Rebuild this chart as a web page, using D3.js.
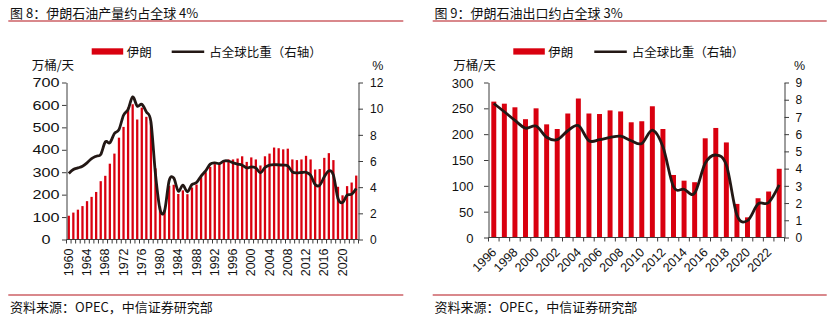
<!DOCTYPE html>
<html>
<head>
<meta charset="utf-8">
<script src="https://cdn.jsdelivr.net/npm/d3@7"></script>
<style>
  body { margin: 0; background: #fff; }
  svg { display: block; }
  text { fill: #111; }
  .cjk { font-family: "Noto Sans CJK SC", sans-serif; }
  .num { font-family: "Liberation Sans", Arial, sans-serif; }
</style>
</head>
<body>
<svg id="chart" width="839" height="325"></svg>
<script>
// Iran crude production (10k b/d) and share of world output (%)
const prodYears = d3.range(1960, 2024);
const prodValues = [
  106, 120, 133, 149, 171, 190, 212, 260, 284, 338,
  383, 454, 502, 588, 603, 535, 588, 547, 524, 317,
  147, 132, 240, 244, 203, 219, 202, 232, 245, 280,
  300, 324, 336, 340, 354, 357, 357, 361, 371, 346,
  366, 357, 330, 371, 383, 410, 407, 402, 405, 357,
  354, 357, 373, 357, 312, 314, 364, 385, 354, 235,
  197, 238, 254, 285,
];
const prodShare = [
  5.05, 5.35, 5.47, 5.6, 5.86, 6.19, 6.37, 6.5, 7.46, 7.39,
  8.1, 8.4, 9.5, 9.94, 10.9, 10.2, 10.34, 9.76, 9.0, 5.0,
  2.3, 2.2, 4.5, 4.7, 3.7, 4.15, 3.65, 4.2, 4.35, 4.85,
  5.25, 5.76, 5.86, 5.8, 6.0, 6.0, 5.86, 5.76, 5.68, 5.47,
  5.55, 5.47, 5.09, 5.5, 5.68, 5.73, 5.7, 5.68, 5.63, 5.17,
  5.09, 5.12, 5.14, 4.92, 4.2, 4.15, 4.79, 5.25, 4.92, 3.13,
  2.83, 3.39, 3.46, 3.9,
];
const prodLeftTicks = [0, 100, 200, 300, 400, 500, 600, 700];
const prodRightTicks = [0, 2, 4, 6, 8, 10, 12];
const prodLabelYears = [1960, 1964, 1968, 1972, 1976, 1980, 1984, 1988, 1992, 1996, 2000, 2004, 2008, 2012, 2016, 2020];

// Iran crude exports (10k b/d) and share of world exports (%)
const exportYears = d3.range(1996, 2024);
const exportValues = [
  263, 259, 252, 229, 250, 219, 210, 240, 269, 240,
  239, 246, 244, 223, 225, 254, 210, 121, 110, 107,
  192, 212, 184, 65, 39, 76, 89, 133,
];
const exportShare = [
  7.78, 7.3, 6.8, 6.35, 6.47, 5.82, 5.68, 6.2, 6.5, 5.62,
  5.68, 5.81, 5.88, 5.62, 5.46, 6.24, 5.27, 2.95, 2.8, 2.57,
  4.31, 4.79, 4.21, 1.31, 0.98, 1.95, 2.03, 3.05,
];
const exportLeftTicks = [0, 50, 100, 150, 200, 250, 300];
const exportRightTicks = [0, 1, 2, 3, 4, 5, 6, 7, 8, 9];
const exportLabelYears = [1996, 1998, 2000, 2002, 2004, 2006, 2008, 2010, 2012, 2014, 2016, 2018, 2020, 2022];

const BAR_RED = '#d9000f';
const LINE_BLACK = '#231815';
const RULE_RED = '#b3121b';
const AXIS = '#3c3c3c';

const svg = d3.select('#chart');

function drawPanel(p) {
  const g = svg.append('g');

  // heading, rules and source note
  g.append('text').attr('class', 'cjk')
    .attr('x', p.frame[0] + 1.7).attr('y', 18)
    .attr('font-size', 13).text(p.title);
  [21, 295].forEach(function(y) {
    g.append('line')
      .attr('x1', p.frame[0]).attr('x2', p.frame[1])
      .attr('y1', y).attr('y2', y)
      .attr('stroke', RULE_RED).attr('stroke-width', 1.2);
  });
  g.append('text').attr('class', 'cjk')
    .attr('x', p.frame[0] + 1.7).attr('y', 312)
    .attr('font-size', 13).text('资料来源：OPEC，中信证券研究部');

  // legend
  const lg = p.legend;
  g.append('rect').attr('x', lg.rectX).attr('y', 48.3)
    .attr('width', 31.5).attr('height', 6.3).attr('fill', BAR_RED);
  g.append('text').attr('class', 'cjk').attr('x', lg.rectX + 35).attr('y', 56.5)
    .attr('font-size', 12.5).text('伊朗');
  g.append('line').attr('x1', lg.lineX).attr('x2', lg.lineX + 32.5)
    .attr('y1', 51.7).attr('y2', 51.7)
    .attr('stroke', LINE_BLACK).attr('stroke-width', 2.6);
  g.append('text').attr('class', 'cjk').attr('x', lg.lineX + 37.5).attr('y', 56.5)
    .attr('font-size', 12.5).text('占全球比重（右轴）');

  // unit captions
  g.append('text').attr('class', 'cjk').attr('x', p.unitX).attr('y', 69.5)
    .attr('font-size', 12.5).text('万桶/天');
  g.append('text').attr('class', 'num').attr('x', p.pctX).attr('y', 69.5)
    .attr('font-size', 12.5).text('%');

  const x = d3.scaleBand().domain(p.years).range([p.left, p.right]).padding(0);
  const yL = d3.scaleLinear().domain([0, p.leftMax]).range([p.bottom, p.top]);
  const yR = d3.scaleLinear().domain([0, p.rightMax]).range([p.bottom, p.top]);
  const bw = x.bandwidth();
  const barW = bw * p.barFrac;
  const cx = function(year) { return x(year) + bw / 2; };

  const rows = p.years.map(function(year, i) {
    return { year: year, value: p.values[i], share: p.share[i] };
  });

  // bars
  g.append('g').selectAll('rect')
    .data(rows)
    .enter().append('rect')
    .attr('x', function(d) { return cx(d.year) - barW / 2; })
    .attr('y', function(d) { return yL(d.value); })
    .attr('width', barW)
    .attr('height', function(d) { return yL(0) - yL(d.value); })
    .attr('fill', BAR_RED);

  // left axis
  const axL = g.append('g')
    .attr('transform', 'translate(' + p.left + ',0)')
    .call(d3.axisLeft(yL).tickValues(p.leftTicks).tickSize(4.5).tickSizeOuter(0).tickPadding(0));
  axL.select('.domain').attr('stroke', AXIS);
  axL.selectAll('.tick line').attr('stroke', AXIS);
  axL.selectAll('.tick text')
    .attr('class', 'num').attr('fill', '#111')
    .attr('font-size', p.leftFont)
    .attr('text-anchor', p.leftAnchor)
    .attr('x', 0).attr('dy', '0.35em')
    .attr('transform', 'translate(' + (p.leftLabelX - p.left) + ',0) scale(' + p.leftStretch + ',1)');

  // right axis
  const axR = g.append('g')
    .attr('transform', 'translate(' + p.right + ',0)')
    .call(d3.axisRight(yR).tickValues(p.rightTicks).tickSize(4.5).tickSizeOuter(0).tickPadding(0));
  axR.select('.domain').attr('stroke', AXIS);
  axR.selectAll('.tick line').attr('stroke', AXIS);
  axR.selectAll('.tick text')
    .attr('class', 'num').attr('fill', '#111')
    .attr('font-size', 12).attr('text-anchor', 'start')
    .attr('x', p.rightLabelX - p.right).attr('dy', '0.35em');

  // category axis with ticks on band edges
  const edges = p.years.map(function(year) { return x(year); }).concat([p.right]);
  g.append('line')
    .attr('x1', p.left).attr('x2', p.right)
    .attr('y1', p.bottom).attr('y2', p.bottom)
    .attr('stroke', AXIS);
  g.append('g').selectAll('line')
    .data(edges)
    .enter().append('line')
    .attr('x1', function(d) { return d; }).attr('x2', function(d) { return d; })
    .attr('y1', p.bottom).attr('y2', p.bottom + 4)
    .attr('stroke', AXIS);

  g.append('g').selectAll('text')
    .data(p.labelYears)
    .enter().append('text')
    .attr('class', 'num')
    .attr('font-size', p.xFont)
    .attr('text-anchor', 'end')
    .attr('transform', function(d) {
      return 'translate(' + (cx(d) + p.xLabelDx) + ',' + p.xLabelY + ') rotate(' + p.xRotate + ')';
    })
    .text(function(d) { return d; });

  // share line on the right axis
  const line = d3.line()
    .x(function(d) { return cx(d.year); })
    .y(function(d) { return yR(d.share); })
    .curve(d3.curveCatmullRom.alpha(0));
  g.append('path')
    .datum(rows)
    .attr('d', line)
    .attr('fill', 'none')
    .attr('stroke', LINE_BLACK)
    .attr('stroke-width', 2.8)
    .attr('stroke-linejoin', 'round');
}

drawPanel({
  title: '图 8：伊朗石油产量约占全球 4%',
  frame: [8.3, 403.3],
  legend: { rectX: 91.7, lineX: 171.7 },
  unitX: 31.7,
  pctX: 372.3,
  years: prodYears,
  values: prodValues,
  share: prodShare,
  leftTicks: prodLeftTicks,
  rightTicks: prodRightTicks,
  labelYears: prodLabelYears,
  leftMax: 700,
  rightMax: 12,
  left: 66.5, right: 358.5, top: 82.5, bottom: 239.5,
  barFrac: 0.5,
  leftFont: 12, leftAnchor: 'middle', leftLabelX: 46, leftStretch: 1.35,
  rightLabelX: 370,
  xFont: 12.5, xRotate: -90, xLabelDx: 4.2, xLabelY: 248.5,
});

drawPanel({
  title: '图 9：伊朗石油出口约占全球 3%',
  frame: [432.7, 826.7],
  legend: { rectX: 513.3, lineX: 594.3 },
  unitX: 453.3,
  pctX: 794,
  years: exportYears,
  values: exportValues,
  share: exportShare,
  leftTicks: exportLeftTicks,
  rightTicks: exportRightTicks,
  labelYears: exportLabelYears,
  leftMax: 300,
  rightMax: 9,
  left: 488.5, right: 784.5, top: 82.5, bottom: 237.5,
  barFrac: 0.47,
  leftFont: 13, leftAnchor: 'end', leftLabelX: 473.5, leftStretch: 1,
  rightLabelX: 795.5,
  xFont: 12.5, xRotate: -45, xLabelDx: 3.5, xLabelY: 253,
});
</script>
</body>
</html>
